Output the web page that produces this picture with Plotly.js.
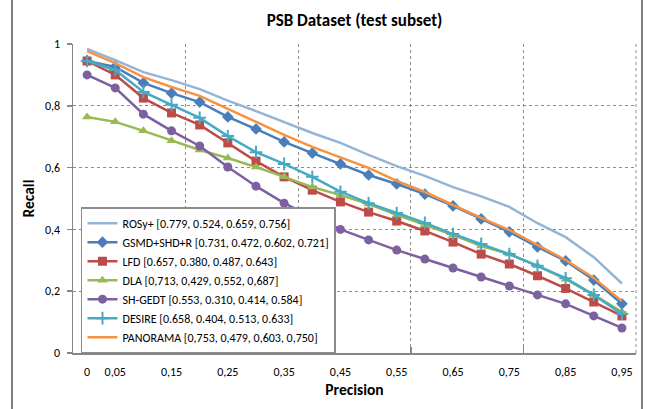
<!DOCTYPE html>
<html>
<head>
<meta charset="utf-8">
<script src="https://cdn.plot.ly/plotly-3.0.1.min.js"></script>
<style>
html,body{margin:0;padding:0;background:#fff;}
#wrap{position:relative;width:651px;height:409px;}
#chart{width:651px;height:409px;}
.edge{position:absolute;top:0;width:2px;height:409px;background:#7f7f7f;pointer-events:none;z-index:10;}
</style>
</head>
<body>
<div id="wrap">
<div id="chart"></div>
<div class="edge" style="left:11px"></div>
<div class="edge" style="left:641px"></div>
</div>
<script>
// Precision categories (Excel category axis)
const precision = [0,0.05,0.1,0.15,0.2,0.25,0.3,0.35,0.4,0.45,0.5,0.55,0.6,0.65,0.7,0.75,0.8,0.85,0.9,0.95];
const xTickVals = [0,0.05,0.15,0.25,0.35,0.45,0.55,0.65,0.75,0.85,0.95];
const xTickText = ['0','0,05','0,15','0,25','0,35','0,45','0,55','0,65','0,75','0,85','0,95'];
const yTickVals = [0,0.2,0.4,0.6,0.8,1];
const yTickText = ['0','0,2','0,4','0,6','0,8','1'];

const names = [
  'ROSy+ [0.779, 0.524, 0.659, 0.756]',
  'GSMD+SHD+R [0.731, 0.472, 0.602, 0.721]',
  'LFD [0.657, 0.380, 0.487, 0.643]',
  'DLA [0,713, 0,429, 0,552, 0,687]',
  'SH-GEDT [0.553, 0.310, 0.414, 0.584]',
  'DESIRE [0.658, 0.404, 0.513, 0.633]',
  'PANORAMA [0,753, 0,479, 0,603, 0,750]'
];

const rosy     = [0.984,0.948,0.909,0.883,0.854,0.817,0.783,0.748,0.712,0.680,0.641,0.605,0.573,0.537,0.507,0.473,0.420,0.375,0.310,0.225];
const gsmd     = [0.945,0.926,0.874,0.841,0.812,0.764,0.725,0.683,0.647,0.612,0.576,0.547,0.514,0.476,0.434,0.392,0.343,0.298,0.236,0.159];
const lfd      = [0.945,0.900,0.825,0.777,0.738,0.680,0.621,0.570,0.527,0.489,0.456,0.427,0.395,0.359,0.320,0.288,0.250,0.209,0.165,0.120];
const dla      = [0.764,0.748,0.719,0.687,0.657,0.631,0.602,0.570,0.537,0.511,0.482,0.447,0.414,0.382,0.346,0.320,0.282,0.239,0.188,0.133];
const shgedt   = [0.900,0.858,0.773,0.719,0.670,0.602,0.540,0.485,0.440,0.400,0.366,0.333,0.304,0.275,0.246,0.217,0.188,0.159,0.120,0.081];
const desire   = [0.945,0.916,0.845,0.803,0.761,0.702,0.650,0.612,0.570,0.522,0.485,0.453,0.421,0.385,0.353,0.320,0.282,0.242,0.188,0.126];
const panorama = [0.977,0.938,0.893,0.861,0.832,0.790,0.748,0.706,0.667,0.632,0.599,0.557,0.521,0.479,0.437,0.398,0.350,0.301,0.243,0.168];

const series = [rosy, gsmd, lfd, dla, shgedt, desire, panorama];
const colors = ['#95B3D7','#4A7EBB','#BE4B48','#98B954','#7D60A0','#46AAC5','#F69240'];
const symbols = [null,'diamond','square','triangle-up','circle','cross-thin',null];
const msizes = [0,9,9,9,9,9,0];

const FONT = 'Carlito, Lato, "Liberation Sans", sans-serif';

const traces = series.map((ys, i) => {
  const t = {
    x: precision, y: ys, name: names[i], type: 'scatter',
    line: {color: colors[i], width: 2.5},
    xaxis: 'x', yaxis: 'y'
  };
  if (symbols[i]) {
    t.mode = 'lines+markers';
    t.marker = {symbol: symbols[i], size: msizes[i], color: colors[i],
                line: {color: colors[i], width: symbols[i] === 'cross-thin' ? 2 : 0}};
  } else {
    t.mode = 'lines';
  }
  return t;
});

// invisible helper trace for the gridline axis
traces.push({x: [precision[0]], y: [0], xaxis: 'x2', yaxis: 'y', mode: 'markers',
  marker: {opacity: 0}, showlegend: false, hoverinfo: 'skip'});

const layout = {
  width: 651, height: 409,
  margin: {l: 73, r: 15, t: 44, b: 56, pad: 0},
  paper_bgcolor: '#ffffff', plot_bgcolor: '#ffffff',
  font: {family: FONT, size: 12, color: '#000000'},
  title: {text: '<b>PSB Dataset (test subset)</b>', font: {family: FONT, size: 17, color: '#000'},
          x: 0.5, xref: 'paper', xanchor: 'center', y: 0.952, yref: 'container', yanchor: 'middle'},
  showlegend: true,
  legend: {x: 0.0142, y: 0.472, xanchor: 'left', yanchor: 'top',
           bgcolor: '#ffffff', bordercolor: '#8c8c8c', borderwidth: 1.5,
           font: {family: FONT, size: 12, color: '#000'}, tracegroupgap: 0, itemwidth: 30},
  xaxis: {
    range: [-0.025, 0.975], tickvals: xTickVals, ticktext: xTickText,
    showgrid: false, zeroline: false, ticks: '',
    showline: true, linecolor: '#868686', linewidth: 1.5,
    tickfont: {family: FONT, size: 12, color: '#000'}, ticklabelstandoff: 7,
    title: {text: '<b>Precision</b>', font: {family: FONT, size: 15.5, color: '#000'}, standoff: 6}
  },
  xaxis2: {
    overlaying: 'x', anchor: 'y', side: 'bottom',
    range: [-0.025, 0.975], tickvals: [0.175, 0.375, 0.575, 0.775, 0.9749],
    showticklabels: false, showgrid: true, gridcolor: '#8c8c8c', griddash: 'dot', gridwidth: 1,
    ticks: 'inside', ticklen: 6, tickcolor: '#868686', tickwidth: 1.5,
    zeroline: false, showline: false
  },
  yaxis: {
    range: [0, 1.0], tickvals: yTickVals, ticktext: yTickText,
    showgrid: true, gridcolor: '#8c8c8c', griddash: 'dot', gridwidth: 1,
    zeroline: false, showline: true, linecolor: '#868686', linewidth: 1.5,
    ticks: 'outside', ticklen: 5, tickcolor: '#868686', tickwidth: 1.5,
    tickfont: {family: FONT, size: 12, color: '#000'}, ticklabelstandoff: 4,
    title: {text: '<b>Recall</b>', font: {family: FONT, size: 15.5, color: '#000'}, standoff: 6}
  },
  shapes: [
    {type: 'line', xref: 'paper', yref: 'paper', x0: 1, x1: 1, y0: 0, y1: 1, layer: 'below',
     line: {color: '#8c8c8c', width: 1, dash: 'dot'}}
  ]
};

Plotly.newPlot('chart', traces, layout, {staticPlot: true, displayModeBar: false});
</script>
</body>
</html>
